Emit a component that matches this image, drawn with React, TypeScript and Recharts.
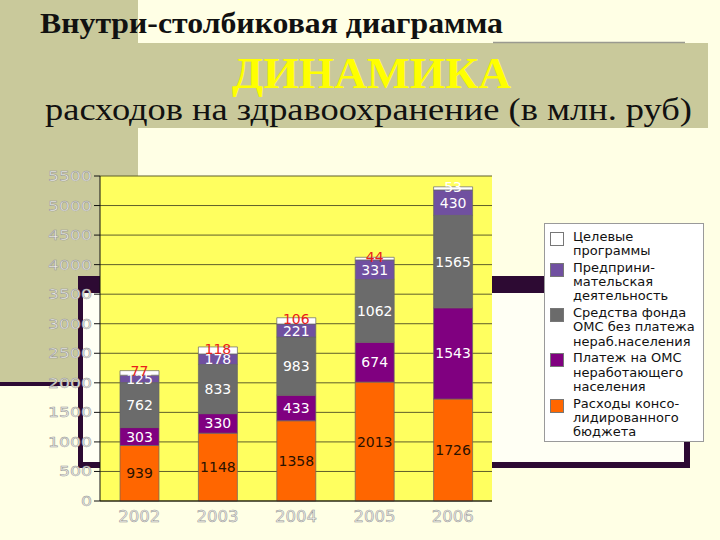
import { BarChart, Bar, XAxis, YAxis, CartesianGrid, Legend, LabelList } from 'recharts'

const years = ['2002', '2003', '2004', '2005', '2006']
const budget = [939, 1148, 1358, 2013, 1726]
const omsPayment = [303, 330, 433, 674, 1543]
const omsFund = [762, 833, 983, 1062, 1565]
const business = [125, 178, 221, 331, 430]
const targetPrograms = [77, 118, 106, 44, 53]
const yTicks = [0, 500, 1000, 1500, 2000, 2500, 3000, 3500, 4000, 4500, 5000, 5500]

// bottom-to-top stacking order
const series = [
  { key: 'budget', lines: ['Расходы консо-', 'лидированного', 'бюджета'], color: '#FF6600', label: '#2a1200' },
  { key: 'omsPayment', lines: ['Платеж на ОМС', 'неработающего', 'населения'], color: '#800080', label: '#ffffff' },
  { key: 'omsFund', lines: ['Средства фонда', 'ОМС без платежа', 'нераб.населения'], color: '#6B6B6B', label: '#ffffff' },
  { key: 'business', lines: ['Предприни-', 'мательская', 'деятельность'], color: '#7050A0', label: '#ffffff' },
  { key: 'targetPrograms', lines: ['Целевые', 'программы'], color: '#FFFFFF', label: '#E8201A' },
]

const data = years.map((year, i) => ({
  year,
  budget: budget[i],
  omsPayment: omsPayment[i],
  omsFund: omsFund[i],
  business: business[i],
  targetPrograms: targetPrograms[i],
}))

const KHAKI = '#C9C99B'
const FRAME = '#2D0A33'
const SANS = '"DejaVu Sans", sans-serif'
const SERIF = '"Liberation Serif", serif'

const YTick = (props: any) => {
  const { x, y, payload } = props
  const s = String(payload.value)
  return (
    <text x={x} y={y} dy={5} textAnchor="end" fontSize={14} fontFamily={SANS}
      textLength={s.length * 11} lengthAdjust="spacingAndGlyphs"
      fill="#efefea" stroke="#959595" strokeWidth={0.5}>
      {s}
    </text>
  )
}

const XTick = (props: any) => {
  const { x, y, payload } = props
  return (
    <text x={x} y={y + 21} textAnchor="middle" fontSize={15} fontFamily={SANS}
      textLength={42} lengthAdjust="spacingAndGlyphs"
      fill="#efefea" stroke="#959595" strokeWidth={0.5}>
      {payload.value}
    </text>
  )
}

const makeLabel = (color: string, key: string) => (props: any) => {
  const vb = props.viewBox ?? props
  const { x, y, width, height } = vb
  const top = key === 'targetPrograms'
  // last white label is drawn white in the original
  const fill = top && props.index === 4 ? '#ffffff' : color
  return (
    <text x={x + width / 2} y={y + height / 2 - (top ? 1.5 : 0)} dy={5} textAnchor="middle"
      fontSize={14} fontFamily={SANS} fill={fill}>
      {props.value}
    </text>
  )
}

const LegendBox = () => (
  <div style={{ padding: '6px 2px 0 5px', fontFamily: SANS, fontSize: 13, color: '#111', whiteSpace: 'nowrap' }}>
    {[...series].reverse().map((s) => (
      <div key={s.key} style={{ display: 'flex', marginBottom: 2.6 }}>
        <div style={{
          width: 12, height: 12, background: s.color, border: '1px solid #777',
          marginTop: 2, marginRight: 9, flexShrink: 0,
        }} />
        <div style={{ lineHeight: '14.2px' }}>
          {s.lines.map((l) => <div key={l}>{l}</div>)}
        </div>
      </div>
    ))}
  </div>
)

export default function App() {
  return (
    <div style={{ position: 'absolute', left: 0, top: 0, width: 720, height: 540, overflow: 'hidden' }}>
      <svg width={720} height={540} style={{ position: 'absolute', left: 0, top: 0 }}>
        <rect x={0} y={0} width={720} height={540} fill="#FFFFE5" />
        <rect x={0} y={0} width={138} height={383} fill={KHAKI} />
        <rect x={0} y={43} width={708} height={85} fill={KHAKI} />
        <line x1={493} y1={42.5} x2={685} y2={42.5} stroke="#9a9a90" strokeWidth={1.5} />
        <rect x={0} y={382} width={80} height={4} fill={FRAME} />
        <rect x={78} y={276} width={612} height={192} fill={FRAME} />
        <rect x={83} y={293} width={601} height={169} fill="#FFFFF4" />
        <text x={40} y={33} fontFamily={SERIF} fontWeight="bold" fontSize={29} fill="#111"
          textLength={463} lengthAdjust="spacingAndGlyphs">
          Внутри-столбиковая диаграмма
        </text>
        <text x={232} y={88} fontFamily={SERIF} fontWeight="bold" fontSize={45} fill="#FFFF00"
          textLength={279} lengthAdjust="spacingAndGlyphs">
          ДИНАМИКА
        </text>
        <text x={45} y={120} fontFamily={SERIF} fontSize={32} fill="#111"
          textLength={647} lengthAdjust="spacingAndGlyphs">
          расходов на здравоохранение (в млн. руб)
        </text>
      </svg>
      <div style={{ position: 'absolute', left: 0, top: 0 }}>
        <BarChart width={720} height={540} data={data} barSize={39}
          margin={{ top: 176, right: 228, bottom: 9, left: 40 }}>
          <CartesianGrid vertical={false} fill="#FFFF5F" stroke="#5e5e2a" />
          <XAxis dataKey="year" tick={<XTick />} tickLine={false} tickSize={0} tickMargin={0}
            axisLine={{ stroke: '#111' }} height={30} interval={0} />
          <YAxis domain={[0, 5500]} ticks={yTicks} interval={0} width={60} tick={<YTick />}
            tickSize={6} tickMargin={2} axisLine={{ stroke: '#111' }} tickLine={{ stroke: '#111' }} />
          <Legend layout="vertical" align="center" verticalAlign="middle" content={<LegendBox />}
            wrapperStyle={{
              left: 544, top: 223, width: 160, height: 219, background: '#fff',
              border: '1px solid #9a9a9a', boxSizing: 'border-box',
            }} />
          {series.map((s) => (
            <Bar key={s.key} dataKey={s.key} stackId="a" name={s.lines.join(' ')} fill={s.color}
              stroke="#666" strokeWidth={0.7} isAnimationActive={false}>
              <LabelList dataKey={s.key} content={makeLabel(s.label, s.key)} />
            </Bar>
          ))}
        </BarChart>
      </div>
    </div>
  )
}
